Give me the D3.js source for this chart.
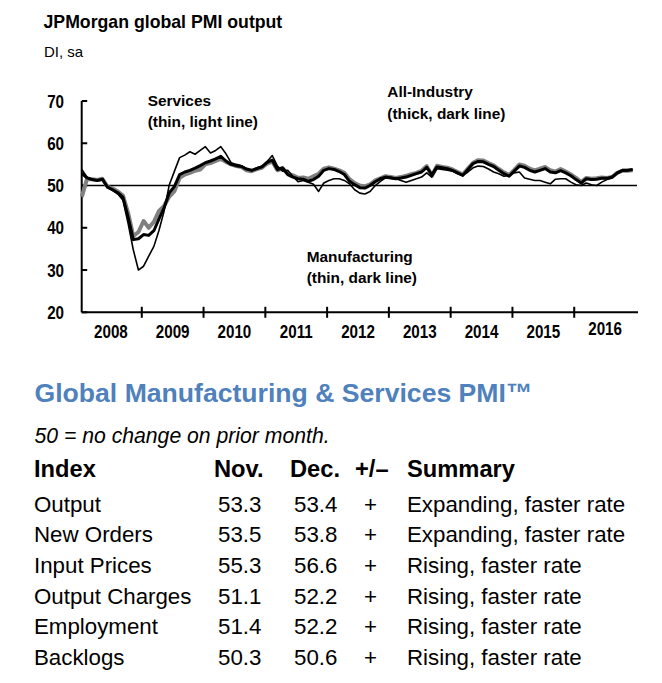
<!DOCTYPE html>
<html>
<head>
<meta charset="utf-8">
<script src="https://cdn.jsdelivr.net/npm/d3@7"></script>
<style>
  html, body { margin: 0; padding: 0; background: #fff; }
  svg { display: block; }
</style>
</head>
<body>
<svg id="chart" width="662" height="683"></svg>
<script>
// ---------------- DATA ----------------
const yearLabels = ["2008","2009","2010","2011","2012","2013","2014","2015","2016"];
const yTicks = [20, 30, 40, 50, 60, 70];

// Monthly, Jan 2008 .. Dec 2016
const allIndustry = [
  52.9, 51.8, 51.4, 51.2, 51.5, 49.6, 49.0, 48.3, 47.2, 42.5, 37.2, 37.4,
  38.4, 38.2, 39.3, 42.1, 44.8, 48.3, 49.8, 52.6, 53.2, 53.6, 54.1, 54.7,
  55.4, 55.8, 56.3, 56.9, 55.8, 55.0, 54.7, 54.5, 53.9, 53.6, 54.0, 54.4,
  55.5, 56.0, 53.8, 54.2, 52.6, 52.0, 51.6, 51.5, 51.0, 51.4, 52.2, 53.6,
  54.0, 53.8, 53.3, 52.6, 51.0, 50.2, 49.5, 49.4, 50.0, 50.9, 51.6, 52.0,
  51.8, 51.6, 51.8, 52.0, 52.4, 52.8, 53.2, 54.3, 52.6, 54.4, 54.2, 54.0,
  53.6, 53.0, 52.4, 53.8, 55.2, 55.7, 55.6, 55.0, 54.5, 53.6, 52.8, 52.2,
  53.4, 54.6, 54.3, 53.6, 53.2, 53.6, 54.0, 53.2, 53.0, 53.5, 53.0, 52.3,
  51.4, 50.6, 51.6, 51.4, 51.5, 51.7, 51.7, 52.0, 53.0, 53.6, 53.6, 53.8
];
const services = [
  47.3, 51.5, 51.5, 51.3, 51.6, 49.7, 49.3, 48.6, 47.6, 43.5, 38.0, 39.0,
  41.6, 40.0, 41.4, 44.0, 45.2, 47.4, 48.7, 51.8, 52.6, 53.0, 53.5, 53.8,
  55.0, 55.3, 55.8, 56.3, 55.6, 55.0, 54.6, 54.4, 53.6, 53.4, 53.9, 54.2,
  55.2, 55.7, 53.6, 54.0, 52.8, 52.4, 51.8, 51.9, 51.6, 52.2, 52.8, 54.0,
  54.3, 54.0, 53.6, 53.0, 51.5, 50.6, 50.0, 49.8, 50.3, 51.2, 51.7, 52.2,
  52.0, 51.8, 52.0, 52.3, 52.7, 53.0, 53.5, 54.6, 52.3, 54.7, 54.4, 54.2,
  53.8, 53.2, 52.6, 54.0, 55.4, 56.0, 55.9, 55.3, 54.8, 53.9, 53.1, 52.5,
  53.7, 55.0, 54.7, 54.0, 53.6, 54.0, 54.4, 53.6, 53.3, 53.9, 53.3, 52.6,
  51.8, 50.8, 51.8, 51.6, 51.7, 51.9, 51.8, 52.0, 53.0, 53.5, 53.5, 53.6
];
const manufacturing = [
  53.8, 52.0, 51.5, 51.2, 51.6, 49.5, 48.8, 48.0, 46.5, 41.0, 34.8, 30.0,
  30.9, 33.3, 35.6, 39.4, 44.0, 50.2, 53.4, 56.6, 57.2, 58.0, 57.4, 58.3,
  59.2, 57.7, 58.3, 59.2, 57.5, 55.4, 55.0, 54.7, 54.0, 53.5, 54.2, 54.6,
  55.7, 57.1, 54.6, 53.4, 53.6, 52.2, 50.9, 51.2, 50.8, 50.3, 48.6, 50.6,
  51.2, 51.6, 51.6, 51.2, 50.4, 49.0, 48.2, 48.0, 48.6, 50.0, 51.0, 51.8,
  52.0, 51.6, 51.2, 50.8, 51.2, 51.6, 52.0, 53.0, 52.0, 54.0, 53.8, 53.6,
  53.4, 52.8, 52.4, 53.2, 54.2, 54.6, 54.5, 53.9, 53.2, 52.8, 52.2, 52.4,
  53.0, 53.2, 51.8, 51.5, 51.2, 51.2, 50.8, 50.4, 51.5, 51.6, 51.6, 50.8,
  50.2, 50.0, 50.6, 50.2, 50.0, 50.8, 51.4, 51.8, 52.8, 53.4, 53.5, 53.8
];

// Table
const tableHeaders = ["Index", "Nov.", "Dec.", "+/\u2013", "Summary"];
const indexNames = ["Output", "New Orders", "Input Prices", "Output Charges", "Employment", "Backlogs"];
const novValues = [53.3, 53.5, 55.3, 51.1, 51.4, 50.3];
const decValues = [53.4, 53.8, 56.6, 52.2, 52.2, 50.6];
const changeSigns = ["+", "+", "+", "+", "+", "+"];
const summaries = ["Expanding, faster rate", "Expanding, faster rate", "Rising, faster rate",
                   "Rising, faster rate", "Rising, faster rate", "Rising, faster rate"];

// ---------------- DRAW ----------------
const svg = d3.select("#chart");
const FONT = "'Liberation Sans', Arial, sans-serif";
const NARROW = "'Liberation Sans Narrow', 'Arial Narrow', 'Liberation Sans', Arial, sans-serif";

const x = d3.scaleLinear().domain([0, 108]).range([80, 636]);
const y = d3.scaleLinear().domain([20, 70]).range([312.3, 101]);
const axisX = 81.7;

// Titles
svg.append("text").attr("x", 43.5).attr("y", 27.7)
  .attr("font-family", FONT).attr("font-weight", "bold").attr("font-size", 17.7)
  .text("JPMorgan global PMI output");
svg.append("text").attr("x", 44).attr("y", 57.3)
  .attr("font-family", FONT).attr("font-size", 15)
  .text("DI, sa");

// Axes
const g = svg.append("g");
g.append("line").attr("x1", axisX).attr("x2", axisX).attr("y1", y(70)).attr("y2", y(20))
  .attr("stroke", "#000").attr("stroke-width", 2);
g.append("line").attr("x1", axisX).attr("x2", 638).attr("y1", y(20)).attr("y2", y(20))
  .attr("stroke", "#000").attr("stroke-width", 2);

const narrowTexts = [];
yTicks.forEach(v => {
  g.append("line").attr("x1", axisX).attr("x2", axisX + 5.5).attr("y1", y(v)).attr("y2", y(v))
    .attr("stroke", "#000").attr("stroke-width", 2);
  narrowTexts.push(g.append("text").attr("x", 64).attr("y", y(v) + 6.7)
    .attr("text-anchor", "end").attr("font-family", NARROW).attr("font-weight", "bold")
    .attr("font-size", 18.5).text(v));
});

yearLabels.forEach((lab, k) => {
  if (k > 0) {
    g.append("line").attr("x1", x(12 * k)).attr("x2", x(12 * k))
      .attr("y1", y(20) - 5.5).attr("y2", y(20) + 5.5)
      .attr("stroke", "#000").attr("stroke-width", 2);
  }
  narrowTexts.push(g.append("text").attr("x", x(12 * k + 6)).attr("y", k === yearLabels.length - 1 ? 335 : 337.5)
    .attr("text-anchor", "middle").attr("font-family", NARROW).attr("font-weight", "bold")
    .attr("font-size", 18.5).text(lab));
});

// 50 line
g.append("line").attr("x1", axisX).attr("x2", 637).attr("y1", y(50)).attr("y2", y(50))
  .attr("stroke", "#000").attr("stroke-width", 1.3);

// Lines
const line = d3.line().x((d, i) => x(i + 0.35)).y(d => y(d));
g.append("path").datum(services).attr("d", line).attr("fill", "none")
  .attr("stroke", "#808080").attr("stroke-width", 4).attr("stroke-linejoin", "round");
g.append("path").datum(allIndustry).attr("d", line).attr("fill", "none")
  .attr("stroke", "#000").attr("stroke-width", 3).attr("stroke-linejoin", "round");
g.append("path").datum(manufacturing).attr("d", line).attr("fill", "none")
  .attr("stroke", "#000").attr("stroke-width", 1.6).attr("stroke-linejoin", "round");

// Annotations
function note(xp, y1, lines) {
  lines.forEach((t, i) => {
    svg.append("text").attr("x", xp).attr("y", y1 + i * 21.3)
      .attr("font-family", FONT).attr("font-weight", "bold").attr("font-size", 15.4).text(t);
  });
}
note(147.7, 106, ["Services", "(thin, light line)"]);
note(387.3, 97.3, ["All-Industry", "(thick, dark line)"]);
note(306.7, 261.7, ["Manufacturing", "(thin, dark line)"]);

// Narrow-font fallback: if the narrow face is unavailable, condense glyphs
(function () {
  const t1 = svg.append("text").attr("font-family", NARROW).attr("font-weight", "bold").attr("font-size", 18.5).text("2008");
  const t2 = svg.append("text").attr("font-family", FONT).attr("font-weight", "bold").attr("font-size", 18.5).text("2008");
  const w1 = t1.node().getComputedTextLength(), w2 = t2.node().getComputedTextLength();
  t1.remove(); t2.remove();
  if (w1 / w2 > 0.9) {
    narrowTexts.forEach(t => {
      const w = t.node().getComputedTextLength();
      t.attr("textLength", w * 0.82).attr("lengthAdjust", "spacingAndGlyphs");
    });
  }
})();

// Table section
svg.append("text").attr("x", 34.5).attr("y", 401.5)
  .attr("font-family", FONT).attr("font-weight", "bold").attr("font-size", 26.6)
  .attr("fill", "#4f81bd").text("Global Manufacturing & Services PMI\u2122");
svg.append("text").attr("x", 34.5).attr("y", 443.3)
  .attr("font-family", FONT).attr("font-style", "italic").attr("font-size", 21.2)
  .text("50 = no change on prior month.");

const headX = [34, 214, 290, 355, 407];
tableHeaders.forEach((h, i) => {
  svg.append("text").attr("x", headX[i]).attr("y", 477)
    .attr("font-family", FONT).attr("font-weight", "bold").attr("font-size", 23.7).text(h);
});
const colX = [34, 218, 294, 364, 407];
indexNames.forEach((name, r) => {
  const yy = 511.7 + r * 30.66;
  const cells = [name, novValues[r].toFixed(1), decValues[r].toFixed(1), changeSigns[r], summaries[r]];
  cells.forEach((c, i) => {
    svg.append("text").attr("x", colX[i]).attr("y", yy)
      .attr("font-family", FONT).attr("font-size", 22.3).text(c);
  });
});
</script>
</body>
</html>
